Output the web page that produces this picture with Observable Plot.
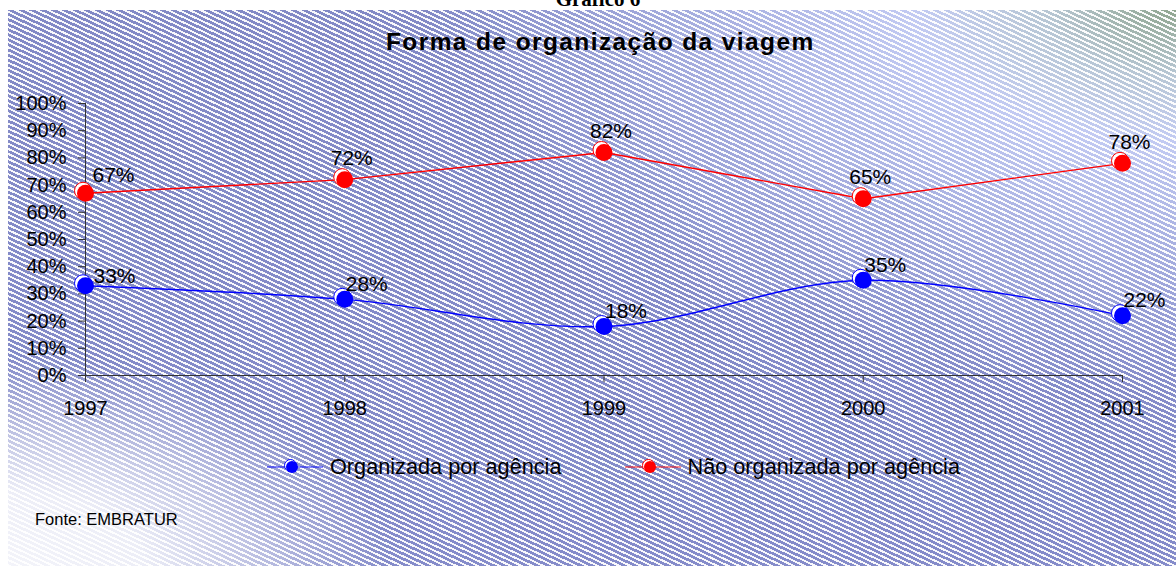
<!DOCTYPE html>
<html>
<head>
<meta charset="utf-8">
<script src="https://cdn.jsdelivr.net/npm/d3@7"></script>
<script src="https://cdn.jsdelivr.net/npm/@observablehq/plot@0.6"></script>
<style>
  html, body { margin: 0; padding: 0; background: #fff; }
  #wrap { position: relative; width: 1176px; height: 566px; overflow: hidden; font-family: "Liberation Sans", Arial, sans-serif; }
  #bg {
    position: absolute; left: 8px; top: 10px; width: 1168px; height: 556px;
    background:
      radial-gradient(ellipse 380px 210px at 0% 100%, rgba(255,255,255,0.9) 0%, rgba(255,255,255,0.85) 35%, rgba(255,255,255,0) 100%),
      repeating-linear-gradient(25deg, rgba(255,255,255,0.95) 0px, rgba(255,255,255,0.95) 1.9px, rgba(255,255,255,0) 1.9px, rgba(255,255,255,0) 4.6px),
      radial-gradient(ellipse 260px 130px at 100% 0%, #8fa58f 0%, rgba(170,190,190,0.6) 50%, rgba(200,210,245,0) 100%),
      radial-gradient(ellipse 750px 380px at 100% 0%, #d4dcfa 0%, #c2caf2 35%, rgba(190,198,240,0) 100%),
      linear-gradient(180deg, #838ac6 0%, #858cca 100%);
  }
  #chart { position: absolute; left: 0; top: 0; }
  .abs { position: absolute; white-space: nowrap; }
  #grafico { top: -11px; left: 0; width: 1196px; text-align: center; font-family: "Liberation Serif", "Times New Roman", serif; font-weight: bold; font-size: 21px; line-height: 21px; }
  #title { top: 29.5px; left: 386px; font-weight: bold; font-size: 24.5px; line-height: 24px; letter-spacing: 1.4px; color: #000; }
  #legend { top: 456px; left: 266px; font-size: 21.7px; line-height: 22px; display: flex; align-items: center; color: #000; }
  #legend .item { display: flex; align-items: center; }
  #legend svg { margin-right: 6px; }
  #caption { top: 511px; left: 35px; font-size: 16.5px; line-height: 17px; color: #000; }
</style>
</head>
<body>
<div id="wrap">
  <div id="grafico" class="abs">Gráfico 6</div>
  <div id="bg"></div>
  <div id="chart"></div>
  <div id="title" class="abs">Forma de organização da viagem</div>
  <div id="legend" class="abs"></div>
  <div id="caption" class="abs">Fonte: EMBRATUR</div>
</div>
<script>
// ---- Data ----
const years = [1997, 1998, 1999, 2000, 2001];
const organizada = [33, 28, 18, 35, 22];
const naoOrganizada = [67, 72, 82, 65, 78];
const seriesNames = ["Organizada por agência", "Não organizada por agência"];
const seriesColors = ["#0000ff", "#ff0000"];
const yTicks = [0, 10, 20, 30, 40, 50, 60, 70, 80, 90, 100];

const blue = years.map((y, i) => ({year: y, value: organizada[i], first: i === 0}));
const red = years.map((y, i) => ({year: y, value: naoOrganizada[i], first: i === 0}));

const lbl = d => d.value + "%";

const chart = Plot.plot({
  width: 1176,
  height: 440,
  marginLeft: 85,
  marginRight: 54,
  marginTop: 103,
  marginBottom: 65,
  x: {domain: [1997, 2001]},
  y: {domain: [0, 100]},
  style: {background: "transparent", fontFamily: "'Liberation Sans', Arial, sans-serif", color: "#000", overflow: "visible"},
  marks: [
    Plot.ruleX([1997], {y1: 0, y2: 100, stroke: "#333", strokeWidth: 1}),
    Plot.ruleY([0], {x1: 1997, x2: 2001, stroke: "#333", strokeWidth: 1}),
    Plot.axisY(yTicks, {tickSize: 7, tickPadding: 12, fontSize: 20, tickFormat: d => d + "%", label: null, stroke: "#333"}),
    Plot.axisX(years, {tickSize: 7, tickPadding: 18, fontSize: 20, tickFormat: d => String(d), label: null, stroke: "#333"}),
    Plot.line(red, {x: "year", y: "value", stroke: seriesColors[1], strokeWidth: 1.4}),
    Plot.line(blue, {x: "year", y: "value", stroke: seriesColors[0], strokeWidth: 1.4, curve: "catmull-rom"}),
    Plot.dot(red, {x: "year", y: "value", r: 8.5, fill: "white", stroke: seriesColors[1], strokeWidth: 1, dx: -2.5, dy: -2.5}),
    Plot.dot(red, {x: "year", y: "value", r: 8.5, fill: seriesColors[1]}),
    Plot.dot(blue, {x: "year", y: "value", r: 8.5, fill: "white", stroke: seriesColors[0], strokeWidth: 1, dx: -2.5, dy: -2.5}),
    Plot.dot(blue, {x: "year", y: "value", r: 8.5, fill: seriesColors[0]}),
    Plot.text(red.filter(d => !d.first), {x: "year", y: "value", text: lbl, dx: 7, dy: -21, fontSize: 21, fill: "#000"}),
    Plot.text(red.filter(d => d.first), {x: "year", y: "value", text: lbl, dx: 28, dy: -18, fontSize: 21, fill: "#000"}),
    Plot.text(blue.filter(d => !d.first), {x: "year", y: "value", text: lbl, dx: 22, dy: -15, fontSize: 21, fill: "#000"}),
    Plot.text(blue.filter(d => d.first), {x: "year", y: "value", text: lbl, dx: 29, dy: -9, fontSize: 21, fill: "#000"})
  ]
});
document.getElementById("chart").appendChild(chart);

// ---- Legend ----
const legend = document.getElementById("legend");
seriesNames.forEach((name, i) => {
  const item = document.createElement("div");
  item.className = "item";
  if (i > 0) item.style.marginLeft = "62px";
  const c = seriesColors[i];
  item.innerHTML =
    `<svg width="58" height="22" viewBox="0 0 58 22">
       <line x1="1" y1="11" x2="57" y2="11" stroke="${c}" stroke-width="1.6" opacity="0.6"/>
       <circle cx="24.5" cy="9.5" r="6" fill="white" stroke="${c}" stroke-width="1"/>
       <circle cx="26" cy="11" r="6" fill="${c}"/>
     </svg><span>${name}</span>`;
  legend.appendChild(item);
});
</script>
</body>
</html>
